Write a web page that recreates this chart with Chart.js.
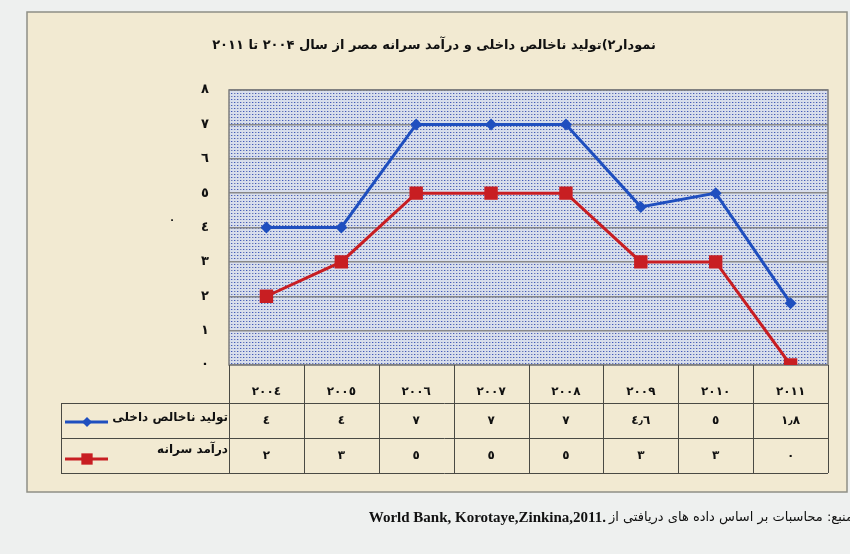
<!DOCTYPE html>
<html lang="fa">
<head>
<meta charset="UTF-8">
<title>نمودار ۲</title>
<script src="https://cdn.jsdelivr.net/npm/chart.js"></script>
<style>
  body { margin: 0; background: #eef0ef; }
  canvas { display: block; }
</style>
</head>
<body>
<canvas id="gdpChart" width="850" height="554"></canvas>
<script>
// données
const years = ['٢٠٠٤', '٢٠٠٥', '٢٠٠٦', '٢٠٠٧', '٢٠٠٨', '٢٠٠٩', '٢٠١٠', '٢٠١١'];
const gdpValues = [4, 4, 7, 7, 7, 4.6, 5, 1.8];
const incomeValues = [2, 3, 5, 5, 5, 3, 3, 0];
const yTickLabels = ['٠', '١', '٢', '٣', '٤', '٥', '٦', '٧', '٨'];
const seriesNames = ['تولید ناخالص داخلی', 'درآمد سرانه'];
const chartTitle = 'نمودار۲)تولید ناخالص داخلی و درآمد سرانه مصر از سال ۲۰۰۴ تا ۲۰۱۱';
const sourceFa = 'منبع: محاسبات بر اساس داده های دریافتی از';
const sourceEn = 'World Bank, Korotaye,Zinkina,2011.';

const FONT = '"DejaVu Sans", sans-serif';

function toArabicDigits(v) {
    return String(v).replace(/\d/g, d => '٠١٢٣٤٥٦٧٨٩'[d]).replace('.', '٫');
}

// motif pointillé de la zone de tracé
function makePattern() {
    const c = document.createElement('canvas');
    c.width = 6; c.height = 6;
    const g = c.getContext('2d');
    g.fillStyle = '#d8deec';
    g.fillRect(0, 0, 6, 6);
    g.fillStyle = '#3c56c0';
    g.fillRect(0, 0, 1, 1);
    g.fillRect(3, 3, 1, 1);
    g.fillStyle = '#6c7cb2';
    g.fillRect(3, 0, 1, 1);
    g.fillRect(0, 3, 1, 1);
    g.fillStyle = '#aab4d4';
    g.fillRect(1, 0, 1, 1);
    g.fillRect(4, 3, 1, 1);
    g.fillRect(1, 3, 1, 1);
    g.fillRect(4, 0, 1, 1);
    return g.createPattern(c, 'repeat');
}

const ROW1 = 403, ROW2 = 438, ROW3 = 473, TABLE_LEFT = 61;

const backdrop = {
    id: 'backdrop',
    beforeDraw(chart) {
        const ctx = chart.ctx;
        const a = chart.chartArea;
        ctx.save();
        ctx.fillStyle = '#eef0ef';
        ctx.fillRect(0, 0, chart.width, chart.height);
        // cadre beige
        ctx.fillStyle = '#f2ead2';
        ctx.fillRect(27, 12, 820, 480);
        ctx.strokeStyle = '#8f8f86';
        ctx.lineWidth = 1.5;
        ctx.strokeRect(27, 12, 820, 480);
        // zone de tracé
        ctx.fillStyle = makePattern();
        ctx.fillRect(a.left, a.top, a.right - a.left, a.bottom - a.top);
        // titre
        ctx.fillStyle = '#111';
        ctx.font = 'bold 13px ' + FONT;
        ctx.textAlign = 'center';
        ctx.textBaseline = 'middle';
        ctx.direction = 'rtl';
        ctx.fillText(chartTitle, 434, 46);
        ctx.font = 'bold 10px ' + FONT;
        ctx.fillText('٠', 172, 220);
        ctx.restore();
    },
    beforeDatasetsDraw(chart) {
        const ctx = chart.ctx;
        const a = chart.chartArea;
        const x = chart.scales.x;
        ctx.save();
        ctx.strokeStyle = '#7d7d7d';
        ctx.lineWidth = 1.5;
        ctx.strokeRect(a.left, a.top, a.right - a.left, a.bottom - a.top);

        // tableau de données
        ctx.strokeStyle = '#4a4a44';
        ctx.lineWidth = 1;
        const colW = (a.right - a.left) / years.length;
        ctx.beginPath();
        for (let i = 0; i <= years.length; i++) {
            const cx = Math.round(a.left + i * colW) + 0.5;
            ctx.moveTo(cx, a.bottom);
            ctx.lineTo(cx, ROW3);
        }
        [ROW1, ROW2, ROW3].forEach(y => {
            ctx.moveTo(TABLE_LEFT, y + 0.5);
            ctx.lineTo(a.right, y + 0.5);
        });
        ctx.moveTo(TABLE_LEFT + 0.5, ROW1);
        ctx.lineTo(TABLE_LEFT + 0.5, ROW3);
        ctx.stroke();

        ctx.fillStyle = '#111';
        ctx.font = 'bold 12px ' + FONT;
        ctx.textAlign = 'center';
        ctx.textBaseline = 'middle';
        [gdpValues, incomeValues].forEach((vals, r) => {
            const cy = r === 0 ? (ROW1 + ROW2) / 2 : (ROW2 + ROW3) / 2;
            vals.forEach((v, i) => {
                ctx.fillText(toArabicDigits(v), x.getPixelForValue(i), cy);
            });
        });

        // légende dans le tableau
        chart.data.datasets.forEach((ds, r) => {
            const ty = r === 0 ? 418 : 450;
            const ly = r === 0 ? 422 : 459;
            ctx.font = 'bold 12px ' + FONT;
            ctx.textAlign = 'right';
            ctx.direction = 'rtl';
            ctx.fillStyle = '#111';
            ctx.fillText(seriesNames[r], 228, ty);
            ctx.strokeStyle = ds.borderColor;
            ctx.lineWidth = 3;
            ctx.beginPath();
            ctx.moveTo(65, ly);
            ctx.lineTo(108, ly);
            ctx.stroke();
            ctx.fillStyle = ds.pointBackgroundColor;
            Chart.helpers.drawPoint(ctx, {
                pointStyle: ds.pointStyle,
                rotation: 0,
                radius: r === 0 ? 5 : 8,
                borderWidth: 0
            }, 87, ly);
        });
        ctx.restore();
    },
    afterDraw(chart) {
        const ctx = chart.ctx;
        ctx.save();
        ctx.textBaseline = 'middle';
        ctx.fillStyle = '#111';
        ctx.font = 'bold 15px "Liberation Serif", serif';
        ctx.textAlign = 'right';
        ctx.direction = 'ltr';
        ctx.fillText(sourceEn, 606, 518);
        ctx.font = '13px ' + FONT;
        ctx.direction = 'rtl';
        ctx.textAlign = 'right';
        ctx.fillText(sourceFa, 853, 518);
        ctx.restore();
    }
};

new Chart(document.getElementById('gdpChart'), {
    type: 'line',
    data: {
        labels: years,
        datasets: [
            {
                label: seriesNames[0],
                data: gdpValues,
                borderColor: '#1f4fbf',
                backgroundColor: '#1f4fbf',
                pointBackgroundColor: '#1f4fbf',
                pointBorderWidth: 0,
                pointStyle: 'rectRot',
                pointRadius: 6,
                borderWidth: 3,
                tension: 0
            },
            {
                label: seriesNames[1],
                data: incomeValues,
                borderColor: '#c81e22',
                backgroundColor: '#c81e22',
                pointBackgroundColor: '#c81e22',
                pointBorderWidth: 0,
                pointStyle: 'rect',
                pointRadius: 9.5,
                borderWidth: 3,
                tension: 0
            }
        ]
    },
    options: {
        responsive: false,
        animation: false,
        layout: { padding: { left: 0, top: 90, right: 22, bottom: 151 } },
        plugins: {
            legend: { display: false },
            tooltip: { enabled: false }
        },
        scales: {
            x: {
                offset: true,
                grid: { display: false },
                border: { display: false },
                ticks: {
                    padding: 12,
                    color: '#111',
                    font: { family: FONT, size: 12, weight: 'bold' },
                    callback: (v, i) => years[i]
                },
                afterFit: s => { s.height = 38; }
            },
            y: {
                min: 0,
                max: 8,
                grid: { color: '#8a8a8a', lineWidth: 1.5, drawTicks: false },
                border: { display: false },
                ticks: {
                    stepSize: 1,
                    padding: 20,
                    color: '#111',
                    font: { family: FONT, size: 13, weight: 'bold' },
                    callback: (v) => yTickLabels[v]
                },
                afterFit: s => { s.width = 229; }
            }
        }
    },
    plugins: [backdrop]
});
</script>
</body>
</html>
